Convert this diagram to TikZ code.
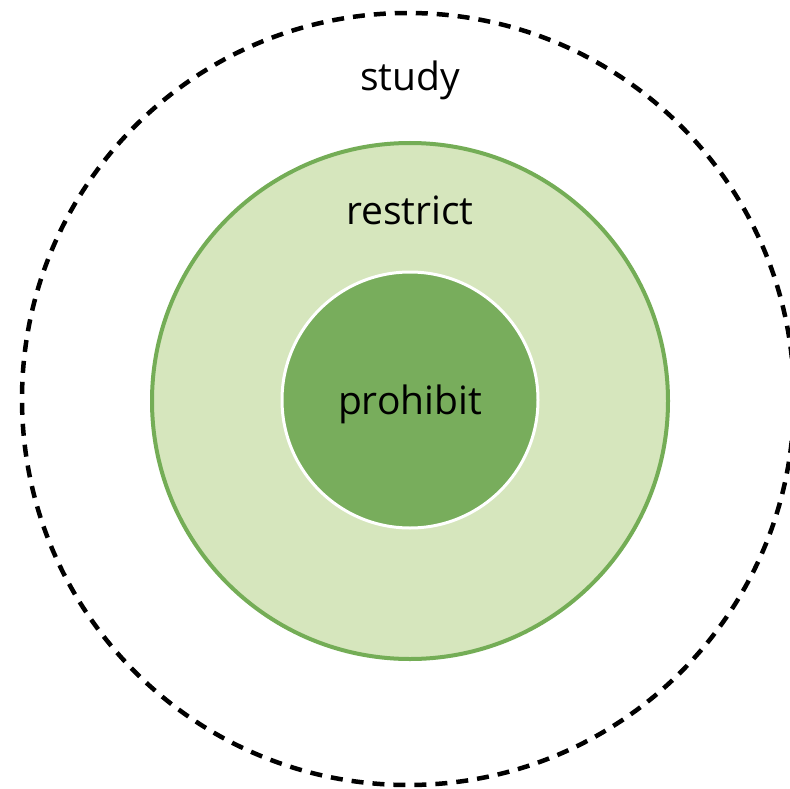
\documentclass[tikz,border=0pt]{standalone}
\usepackage{fontspec}
\setmainfont{Open Sans}
\definecolor{lightgreen}{HTML}{D6E6BD}
\definecolor{ringgreen}{HTML}{74AD56}
\definecolor{coregreen}{HTML}{78AD5C}
\begin{document}
\begin{tikzpicture}[x=1pt,y=-1pt,
  lbl/.style={font=\fontsize{39}{42}\selectfont, text=black, inner sep=0pt}]
\useasboundingbox (0,0) rectangle (790,789);
\fill[white] (0,0) rectangle (790,789);
\begin{scope}
\clip (0,0) rectangle (790,789);
\draw[black, line width=4.5pt, dash pattern=on 12pt off 9pt] (408,399) circle[radius=386];
\end{scope}
\draw[fill=lightgreen, draw=ringgreen, line width=4pt] (410,401) circle[radius=258];
\draw[fill=coregreen, draw=white, line width=3pt] (410,400) circle[radius=128];
\node[lbl] (study) at (410,80) {study};
\node[lbl] (restrict) at (410,210) {restrict};
\node[lbl] (prohibit) at (410,404) {prohibit};
\end{tikzpicture}
\end{document}
